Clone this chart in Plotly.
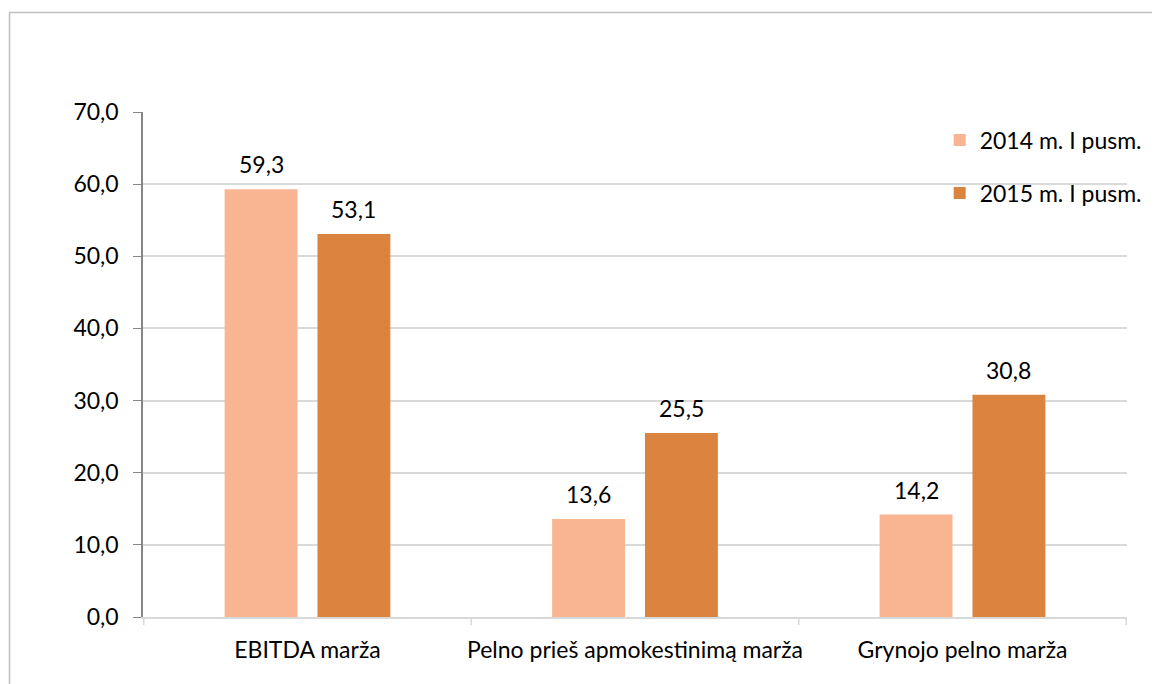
import plotly.graph_objects as go

categories = ["EBITDA marža", "Pelno prieš apmokestinimą marža", "Grynojo pelno marža"]
values_2014 = [59.3, 13.6, 14.2]
values_2015 = [53.1, 25.5, 30.8]
series_names = ["2014 m. I pusm.", "2015 m. I pusm."]
y_ticks = [0, 10, 20, 30, 40, 50, 60, 70]

FONT = "Lato"
FS = 23
colors = ["#F9B591", "#DB8440"]

# the page body adds an 8px margin, so the figure is drawn 8px smaller
W, H = 1152, 676
ml, mr, mt, mb = 135, 33, 104, 67
pw, ph = W - ml - mr, H - mt - mb

fig = go.Figure()
for i, (name, vals) in enumerate(zip(series_names, [values_2014, values_2015])):
    fig.add_trace(go.Bar(
        x=categories,
        y=vals,
        name=name,
        legendgroup=name,
        marker=dict(color=colors[i], line=dict(width=0)),
    ))

# value labels above the bars
slot = 1 - 0.433
for i, vals in enumerate([values_2014, values_2015]):
    off = (i - 0.5) * slot / 2
    for j, v in enumerate(vals):
        fig.add_annotation(
            x=j + off, y=v, xref="x", yref="y",
            text=f"{v:.1f}".replace(".", ","),
            showarrow=False, yanchor="bottom", yshift=9,
            font=dict(size=FS, color="#000000", family=FONT),
        )

# outer chart border
fig.add_shape(type="rect", xref="paper", yref="paper",
              x0=(1.5 - ml) / pw, x1=(W + 20 - ml) / pw,
              y0=(H - mb - (H + 20)) / ph, y1=(H - mb - 4.5) / ph,
              line=dict(color="#BFBFBF", width=1.5), layer="below")

fig.update_layout(
    width=W, height=H,
    margin=dict(l=ml, r=mr, t=mt, b=mb),
    paper_bgcolor="white",
    plot_bgcolor="white",
    separators=",.",
    font=dict(family=FONT, size=FS, color="#000000"),
    barmode="group",
    bargap=0.433,
    bargroupgap=0.215,
    showlegend=True,
    legend=dict(
        x=1.02, y=0.987, xanchor="right", yanchor="top",
        bgcolor="rgba(0,0,0,0)",
        font=dict(size=FS, family=FONT),
        tracegroupgap=20,
        itemwidth=30,
    ),
    xaxis=dict(
        showline=True, linecolor="#D9D9D9", linewidth=1.5,
        ticks="", showgrid=False,
        ticklabelstandoff=12,
        tickfont=dict(size=FS),
    ),
    yaxis=dict(
        range=[0, 70],
        tickvals=y_ticks,
        tickformat=".1f",
        showline=True, linecolor="#868686", linewidth=1.5,
        ticks="outside", ticklen=8, tickcolor="#868686",
        showgrid=True, gridcolor="#D9D9D9", gridwidth=1.5,
        zeroline=False,
        ticklabelstandoff=10,
        tickfont=dict(size=FS),
    ),
)

# category boundary ticks on the x axis
for b in [-0.5, 0.5, 1.5, 2.5]:
    fig.add_shape(type="line", xref="x", yref="paper", x0=b, x1=b,
                  y0=0, y1=-8 / ph, line=dict(color="#D9D9D9", width=1.5))

fig.write_html("out.html")
